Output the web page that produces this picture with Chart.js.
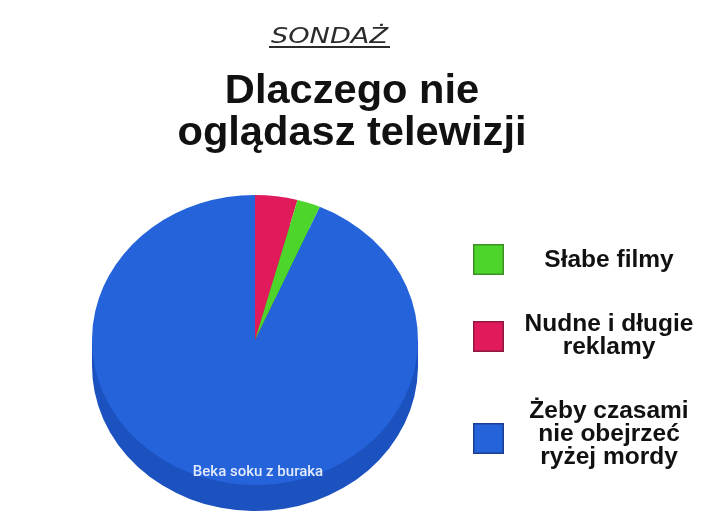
<!DOCTYPE html>
<html lang="pl">
<head>
<meta charset="utf-8">
<title>Sondaż</title>
<script src="https://cdn.jsdelivr.net/npm/chart.js@4.4.1/dist/chart.umd.min.js"></script>
<style>
  html, body { margin: 0; padding: 0; background: #fff; }
  #wrap { position: relative; width: 720px; height: 529px; }
</style>
</head>
<body>
<div id="wrap"><canvas id="myChart"></canvas></div>
<script>
// data
const categories = [
  ['Żeby czasami', 'nie obejrzeć', 'ryżej mordy'],
  ['Nudne i długie', 'reklamy'],
  ['Słabe filmy']
];
const shares = [93.5, 4.2, 2.3];
const surveyTag = 'SONDAŻ';
const question = ['Dlaczego nie', 'oglądasz telewizji'];
const watermark = 'Beka soku z buraka';

// colours
const sliceColors = ['#2563DB', '#E01A5B', '#4DD52B'];
const sideColors = ['#1C51C0', '#B0124A', '#3AAA20'];
const boxBorders = ['#1A3F8F', '#8E1840', '#3B8F25'];

// look of the tilted disc
const SQUASH = 0.89;
const DEPTH = 26;

function wideText(ctx, text, x, y, sx) {
  ctx.save();
  ctx.translate(x, y);
  ctx.scale(sx, 1);
  ctx.fillText(text, 0, 0);
  ctx.restore();
}

// squash the pie into an ellipse and give it a dark side
const tiltPlugin = {
  id: 'tilt',
  beforeDatasetsDraw(chart) {
    const arcs = chart.getDatasetMeta(0).data;
    this._saved = false;
    if (!arcs.length) return;
    const ctx = chart.ctx;
    const cx = arcs[0].x, cy = arcs[0].y, r = arcs[0].outerRadius;
    ctx.save();
    this._saved = true;
    ctx.translate(cx, cy);
    ctx.scale(1, SQUASH);
    ctx.translate(-cx, -cy);
    const dy = DEPTH / SQUASH;
    ctx.fillStyle = sideColors[0];
    ctx.fillRect(cx - r, cy, 2 * r, dy);
    arcs.forEach((a, i) => {
      ctx.beginPath();
      ctx.moveTo(a.x, a.y + dy);
      ctx.arc(a.x, a.y + dy, a.outerRadius, a.startAngle, a.endAngle);
      ctx.closePath();
      ctx.fillStyle = sideColors[i];
      ctx.fill();
    });
  },
  afterDatasetsDraw(chart) {
    if (this._saved) chart.ctx.restore();
    const ctx = chart.ctx;
    ctx.save();
    ctx.font = '500 15px Roboto';
    ctx.fillStyle = 'rgba(236,241,252,0.95)';
    ctx.textAlign = 'center';
    ctx.textBaseline = 'alphabetic';
    ctx.fillText(watermark, 258, 476);
    ctx.restore();
  }
};

// headline and the legend on the right
const captionPlugin = {
  id: 'caption',
  afterDraw(chart) {
    const ctx = chart.ctx;
    ctx.save();
    ctx.textAlign = 'center';
    ctx.textBaseline = 'alphabetic';

    // SONDAŻ
    ctx.font = 'italic 22px "DejaVu Sans"';
    ctx.fillStyle = '#2b2b2b';
    const w = ctx.measureText(surveyTag).width;
    wideText(ctx, surveyTag, 329.5, 43, 117 / w);
    ctx.fillRect(269, 46, 121, 2);

    // question
    ctx.font = 'bold 40px "Liberation Sans", Arial, sans-serif';
    ctx.fillStyle = '#111';
    question.forEach((line, i) => wideText(ctx, line, 352, 103 + i * 42, 1.04));

    // legend
    const order = [2, 1, 0];
    const boxTops = [244, 321, 423];
    const firstBase = [267, 331, 418];
    ctx.font = 'bold 24.5px "Liberation Sans", Arial, sans-serif';
    order.forEach((idx, row) => {
      ctx.fillStyle = sliceColors[idx];
      ctx.fillRect(473, boxTops[row], 31, 31);
      ctx.strokeStyle = boxBorders[idx];
      ctx.lineWidth = 1.5;
      ctx.strokeRect(473.75, boxTops[row] + 0.75, 29.5, 29.5);
      ctx.fillStyle = '#111';
      categories[idx].forEach((line, j) => {
        ctx.fillText(line, 609, firstBase[row] + j * 23);
      });
    });
    ctx.restore();
  }
};

// config
const config = {
  type: 'pie',
  data: {
    labels: categories,
    datasets: [{
      data: shares,
      backgroundColor: sliceColors,
      borderWidth: 0
    }]
  },
  options: {
    responsive: true,
    maintainAspectRatio: false,
    animation: false,
    events: [],
    // red slice starts at twelve o'clock, going clockwise
    rotation: 360 * (shares[1] + shares[2]) / shares.reduce((s, v) => s + v, 0),
    layout: { padding: { left: 92, right: 302, top: 177, bottom: 26 } },
    plugins: {
      legend: { display: false },
      tooltip: { enabled: false }
    }
  },
  plugins: [tiltPlugin, captionPlugin]
};

const myChart = new Chart(document.getElementById('myChart'), config);
</script>
</body>
</html>
